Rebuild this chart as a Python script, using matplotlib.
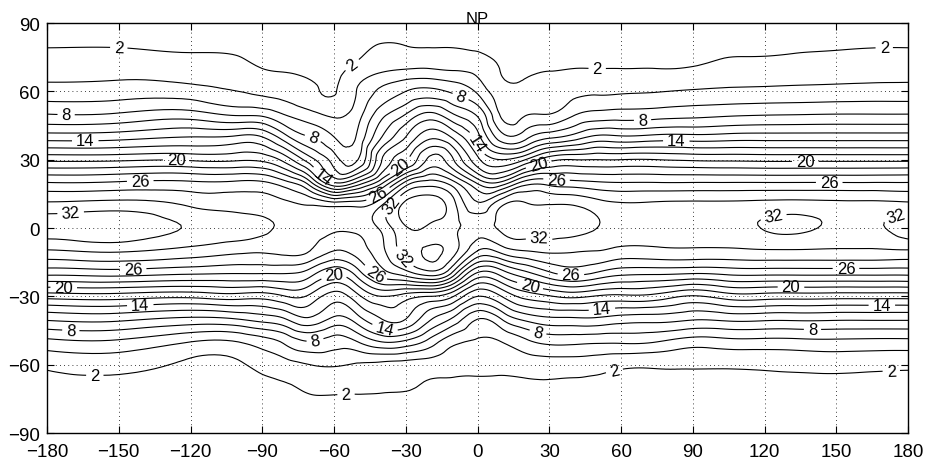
import numpy as np
import matplotlib
matplotlib.use("Agg")
import matplotlib.pyplot as plt
import matplotlib.tri as mtri

plt.rcParams["font.family"] = ["Liberation Sans", "DejaVu Sans"]

# grid: one profile (lat 90 .. -90) per longitude
lats = [90, 80, 70, 60, 50, 40, 30, 20, 10, 0, -10, -20, -30, -40, -50, -60, -70, -80, -90]
lons = [-180, -150, -120, -100, -90, -80, -70, -60, -50, -40, -30, -20, -10, 0,
        10, 20, 30, 40, 50, 60, 75, 90, 105, 120, 135, 150, 165, 180]

profiles = [
    [0.8, 1.9, 3.1, 4.8, 8.0, 13.0, 19.5, 26.0, 30.6, 33.0, 29.8, 24.5, 16.8, 10.3, 5.4, 2.4, 1.3, 0.8, 0.5],   # -180
    [0.8, 1.9, 3.2, 5.0, 8.2, 13.2, 19.6, 26.2, 31.0, 33.4, 30.3, 24.8, 17.0, 10.5, 5.6, 2.7, 1.4, 0.8, 0.5],   # -150
    [0.7, 1.6, 3.0, 4.8, 8.8, 14.0, 19.7, 26.3, 29.8, 31.8, 29.3, 24.2, 16.5, 9.5, 4.0, 1.6, 1.0, 0.7, 0.5],    # -120
    [0.6, 1.5, 2.6, 4.0, 7.6, 14.4, 19.7, 26.4, 29.2, 31.0, 28.5, 24.0, 17.0, 10.0, 4.0, 1.7, 1.1, 0.7, 0.5],   # -100
    [0.5, 1.3, 2.0, 3.6, 7.4, 14.0, 19.5, 26.3, 29.0, 30.4, 28.3, 24.0, 16.8, 10.8, 5.0, 2.6, 1.5, 0.9, 0.5],   # -90
    [0.5, 1.2, 1.8, 3.2, 5.8, 10.5, 17.0, 24.5, 28.6, 29.6, 28.6, 24.0, 18.0, 12.0, 6.5, 3.3, 1.8, 1.0, 0.5],   # -80
    [0.5, 1.1, 1.5, 2.4, 4.6, 8.0, 12.8, 20.5, 28.0, 29.0, 28.0, 22.8, 17.5, 13.6, 7.9, 4.0, 2.3, 1.2, 0.5],    # -70
    [0.6, 1.2, 1.5, 1.9, 3.6, 6.0, 9.0, 14.0, 27.5, 28.5, 26.0, 20.2, 15.0, 11.5, 7.0, 4.2, 2.4, 1.2, 0.5],     # -60
    [0.9, 1.6, 2.5, 4.2, 5.2, 6.4, 8.0, 16.5, 27.5, 28.5, 27.0, 23.0, 17.5, 13.2, 8.0, 3.8, 2.3, 1.2, 0.5],     # -50
    [1.0, 2.1, 3.5, 6.5, 9.3, 12.0, 16.0, 21.5, 30.0, 30.5, 29.5, 27.0, 20.0, 16.0, 10.0, 3.5, 2.2, 1.1, 0.5],  # -40
    [1.0, 2.0, 3.9, 8.0, 12.0, 16.0, 19.6, 28.5, 34.6, 33.8, 33.0, 29.0, 19.0, 16.0, 9.5, 3.2, 2.1, 1.1, 0.5],  # -30
    [1.0, 1.9, 4.0, 8.6, 14.5, 19.5, 24.5, 30.8, 35.0, 33.6, 34.3, 31.0, 18.0, 12.3, 7.2, 3.0, 1.8, 1.0, 0.5],  # -20
    [1.0, 1.9, 3.7, 7.6, 12.0, 17.5, 22.0, 28.5, 32.6, 32.5, 32.7, 27.0, 16.0, 9.5, 4.5, 2.6, 1.6, 0.9, 0.5],   # -10
    [0.8, 1.6, 3.3, 5.6, 9.6, 12.8, 16.5, 23.5, 28.5, 31.0, 28.0, 19.6, 12.0, 6.0, 3.7, 2.5, 1.6, 0.9, 0.5],    # 0
    [0.7, 1.3, 1.9, 2.8, 3.6, 6.8, 14.0, 22.4, 31.8, 32.5, 28.8, 20.8, 14.0, 8.0, 4.0, 2.5, 1.6, 0.9, 0.5],     # 10
    [0.6, 1.2, 1.7, 2.8, 3.8, 7.3, 16.0, 26.8, 32.4, 33.0, 30.0, 23.3, 16.7, 10.5, 5.5, 2.8, 1.7, 0.9, 0.5],    # 20
    [0.7, 1.3, 1.9, 3.1, 4.0, 9.5, 19.3, 27.0, 32.1, 33.0, 30.4, 25.5, 17.8, 11.5, 6.5, 3.0, 1.7, 0.9, 0.5],    # 30
    [0.7, 1.3, 2.0, 3.4, 5.7, 10.8, 20.0, 26.6, 32.0, 32.8, 30.2, 26.5, 18.5, 11.6, 6.5, 3.0, 1.6, 0.9, 0.5],   # 40
    [0.7, 1.4, 2.0, 3.6, 6.6, 12.5, 20.0, 26.2, 31.0, 32.0, 30.0, 25.6, 17.8, 11.6, 6.3, 2.8, 1.5, 0.9, 0.5],   # 50
    [0.7, 1.4, 2.0, 3.7, 6.8, 12.3, 20.0, 26.0, 30.4, 31.5, 29.4, 24.5, 17.5, 11.0, 6.3, 2.4, 1.4, 0.9, 0.5],   # 60
    [0.7, 1.4, 2.0, 3.9, 7.0, 12.7, 20.0, 26.0, 30.5, 31.4, 29.5, 24.3, 17.2, 10.8, 6.0, 2.3, 1.4, 0.9, 0.5],   # 75
    [0.7, 1.5, 2.1, 4.2, 7.3, 12.7, 19.7, 26.0, 30.6, 31.5, 29.6, 24.0, 15.8, 10.2, 5.0, 2.2, 1.4, 0.8, 0.5],   # 90
    [0.7, 1.6, 2.5, 4.4, 7.6, 12.9, 19.6, 26.0, 30.6, 31.5, 29.6, 24.4, 17.0, 10.5, 5.3, 2.25, 1.4, 0.8, 0.5],  # 105
    [0.7, 1.6, 2.6, 4.5, 7.8, 13.0, 19.5, 26.0, 30.8, 32.1, 29.8, 24.5, 17.0, 10.4, 5.3, 2.35, 1.4, 0.8, 0.5],  # 120
    [0.8, 1.7, 2.8, 4.6, 7.9, 13.0, 19.5, 26.0, 30.9, 32.3, 29.8, 24.5, 16.9, 10.4, 5.4, 2.5, 1.4, 0.8, 0.5],   # 135
    [0.8, 1.8, 2.9, 4.7, 8.0, 13.0, 19.5, 26.0, 30.7, 31.6, 29.7, 24.5, 16.8, 10.3, 5.5, 2.6, 1.4, 0.8, 0.5],   # 150
    [0.8, 1.9, 3.0, 4.8, 8.0, 13.0, 19.5, 26.0, 30.7, 31.6, 29.7, 24.5, 16.8, 10.3, 5.4, 2.5, 1.3, 0.8, 0.5],   # 165
    [0.8, 1.9, 3.1, 4.8, 8.0, 13.0, 19.5, 26.0, 30.6, 33.0, 29.8, 24.5, 16.8, 10.3, 5.4, 2.4, 1.3, 0.8, 0.5],   # 180
]

label_levels = [2, 8, 14, 20, 26, 32]
plain_levels = [v for v in range(2, 36, 2) if v not in label_levels]
# where the inline labels sit in the reference (lon, lat)
label_pos = [
    (-150, 79), (-55, 75), (50, 70), (170, 79), (-160, -60), (-55, -73), (58, -66), (173, -64),
    (-172, 50), (-69, 39), (-7, 58), (69, 46), (-170, -44), (-68, -49), (25, -47), (140, -45),
    (-164, 38), (-66, 21), (-2, 36), (83, 35), (-141, -34), (-39, -45), (52, -36), (169, -35),
    (-126, 29), (-32, 27), (25, 30), (137, 28), (-173, -26), (-60, -21), (22, -25), (131, -27),
    (-141, 20), (-42, 16), (33, 21), (147, 18), (-144, -18), (-44, -22), (39, -21), (154, -17),
    (-170, 5), (-39, 12), (-34, -16), (26, 0), (124, 3), (176, 1),
]

LON, LAT = np.meshgrid(lons, lats)
Z = np.array(profiles).T

tri = mtri.Triangulation(LON.ravel(), LAT.ravel())
refiner = mtri.UniformTriRefiner(tri)
tri_fine, z_fine = refiner.refine_field(Z.ravel(), subdiv=3)

fig = plt.figure(figsize=(9.25, 4.6), dpi=100)
ax = fig.add_axes([0.0508, 0.0565, 0.931, 0.8913])

ax.tricontour(tri_fine, z_fine, levels=plain_levels, colors="k", linewidths=0.8)
cs = ax.tricontour(tri_fine, z_fine, levels=label_levels, colors="k", linewidths=0.8)
ax.clabel(cs, manual=label_pos, fmt="%d", fontsize=12, inline=True, inline_spacing=4)

ax.set_xlim(-180, 180)
ax.set_ylim(-90, 90)
ax.set_xticks(range(-180, 181, 30))
ax.set_yticks(range(-90, 91, 30))
ax.grid(True, color="k", linestyle=(0, (1, 4)), linewidth=0.6)
ax.tick_params(direction="in", top=True, right=True, labelsize=13.5, length=5)
ax.tick_params(axis="x", pad=7)
ax.tick_params(axis="y", pad=5)
for sp in ax.spines.values():
    sp.set_linewidth(1.0)
ax.set_title("NP", fontsize=12, pad=0)

fig.savefig("out.png", dpi=100)
